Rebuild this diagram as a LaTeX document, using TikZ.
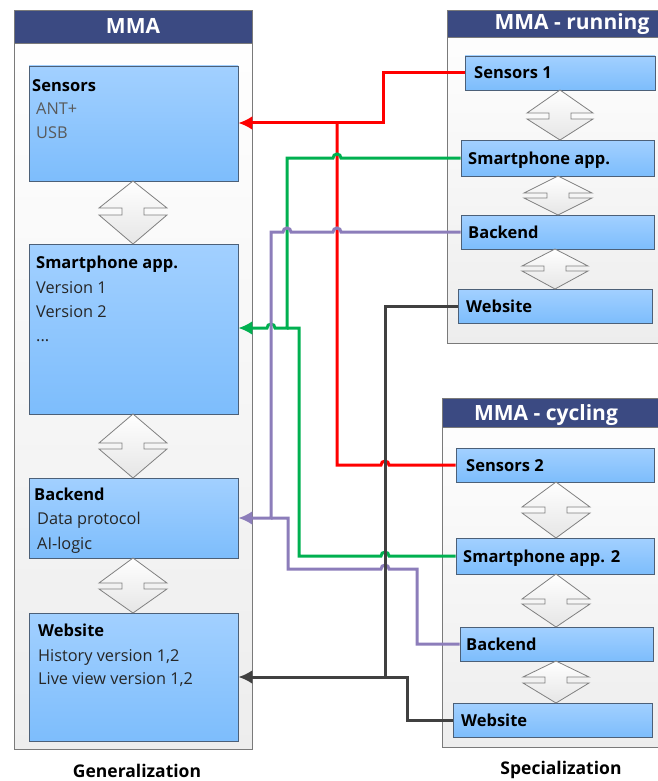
\documentclass[tikz,border=0pt]{standalone}
\usepackage{fontspec}
\setmainfont{Open Sans}
\usetikzlibrary{arrows.meta,shadows}

\definecolor{hdrblue}{HTML}{3B4A82}
\definecolor{boxtop}{HTML}{A2D0FF}
\definecolor{boxbot}{HTML}{7DBDFC}
\definecolor{boxedge}{HTML}{4C6078}
\definecolor{frameedge}{HTML}{7A7A7A}
\definecolor{lnred}{HTML}{FF0000}
\definecolor{lngreen}{HTML}{00B050}
\definecolor{lnpurple}{HTML}{8C7DBA}
\definecolor{lnblack}{HTML}{404040}
\definecolor{subtxt}{HTML}{262626}
\definecolor{graytxt}{HTML}{595959}

% box from (x1,y1) to (x2,y2), y measured downwards
\newcommand{\compbox}[5]{%
  \node[compbox, minimum width={#4pt-#2pt}, minimum height={#5pt-#3pt}]
    (#1) at ({(#2+#4)/2},{-(#3+#5)/2}) {};}
% vertical two-headed arrow: centre x, top, notch top, notch bottom, bottom, half width
\newcommand{\updown}[6]{%
  \draw[updown] (#1,-#2) -- ({#1+#6},-#3) -- ({#1+11},-#3) -- ({#1+11},-#4)
    -- ({#1+#6},-#4) -- (#1,-#5) -- ({#1-#6},-#4) -- ({#1-11},-#4)
    -- ({#1-11},-#3) -- ({#1-#6},-#3) -- cycle;}

\begin{document}
\begin{tikzpicture}[x=1pt,y=1pt,
  frame/.style={draw=frameedge, line width=0.8pt, top color=white, bottom color=black!7},
  header/.style={fill=hdrblue, draw=frameedge, line width=0.8pt},
  hdrtxt/.style={font=\fontsize{21}{24}\selectfont\bfseries, text=white, inner sep=0pt, anchor=base},
  compbox/.style={draw=boxedge, line width=0.8pt, top color=boxtop, bottom color=boxbot,
    inner sep=0pt, drop shadow={shadow xshift=1.2pt, shadow yshift=-1.2pt, opacity=0.25, fill=black}},
  updown/.style={draw=black!50, line width=0.8pt, top color=white, bottom color=black!10},
  ttl/.style={font=\fontsize{16.5}{19}\selectfont\bfseries, text=black, inner sep=0pt, anchor=base west},
  sub/.style={font=\fontsize{16.3}{19}\selectfont, text=subtxt, inner sep=0pt, anchor=base west},
  caption/.style={font=\fontsize{17.5}{20}\selectfont\bfseries, text=black, inner sep=0pt, anchor=base},
  conn/.style={line width=3pt},
  tip/.style={-{Latex[length=14pt,width=14pt]}},
]
\useasboundingbox (0,0) rectangle (657,-781);

% ---------- containers ----------
\path[frame] (14,-10) rectangle (252,-749);
\path[header] (14,-10) rectangle (252,-43);
\node[hdrtxt] (hgen) at (133,-34) {MMA};

\path[frame] (447,-10) rectangle (700,-343);
\path[header] (447,-10) rectangle (700,-37);
\node[hdrtxt] (hrun) at (572,-30) {MMA - running};

\path[frame] (442,-398) rectangle (700,-747);
\path[header] (442,-398) rectangle (700,-427);
\node[hdrtxt] (hcyc) at (546,-420) {MMA - cycling};

% ---------- general components ----------
\compbox{lsens}{29}{66}{238}{181}
\compbox{lapp}{29}{244}{238}{414}
\compbox{lback}{29}{478}{238}{558}
\compbox{lweb}{29}{613}{238}{741}

\node[ttl] (lsens-t) at (32,-92) {Sensors};
\node[sub, text=graytxt] (lsens-a) at (36,-115) {ANT+};
\node[sub, text=graytxt] (lsens-b) at (36,-139) {USB};

\node[ttl] (lapp-t) at (36,-268) {Smartphone app.};
\node[sub] (lapp-a) at (36,-293) {Version 1};
\node[sub] (lapp-b) at (36,-317) {Version 2};
\node[sub] (lapp-c) at (36,-341) {...};

\node[ttl] (lback-t) at (34,-500) {Backend};
\node[sub] (lback-a) at (37,-524) {Data protocol};
\node[sub] (lback-b) at (37,-549) {AI-logic};

\node[ttl] (lweb-t) at (38,-636) {Website};
\node[sub] (lweb-a) at (38,-661) {History version 1,2};
\node[sub] (lweb-b) at (38,-684) {Live view version 1,2};

\updown{133}{181}{208}{215}{244}{34}
\updown{133}{414}{443}{449}{478}{34}
\updown{133}{558}{583}{589}{613}{34}

% ---------- running components ----------
\compbox{s1}{465}{56}{655}{90}
\compbox{sa}{461}{140}{654}{176}
\compbox{be}{461}{215}{654}{249}
\compbox{ws}{458}{289}{652}{323}

\node[ttl] (s1-t) at (474,-79) {Sensors 1};
\node[ttl] (sa-t) at (468,-164) {Smartphone app.};
\node[ttl] (be-t) at (468,-238) {Backend};
\node[ttl] (ws-t) at (466,-312) {Website};

\updown{560}{90}{113}{119}{140}{33}
\updown{558}{176}{193}{198}{215}{34}
\updown{555}{249}{266}{271}{289}{33}

% ---------- cycling components ----------
\compbox{s2}{456}{448}{654}{482}
\compbox{sa2}{456}{538}{654}{574}
\compbox{be2}{460}{627}{653}{661}
\compbox{ws2}{453}{703}{652}{737}

\node[ttl] (s2-t) at (466,-471) {Sensors 2};
\node[ttl] (sa2-t) at (463,-562) {Smartphone app. 2};
\node[ttl] (be2-t) at (466,-650) {Backend};
\node[ttl] (ws2-t) at (461,-726) {Website};

\updown{556}{482}{507}{513}{538}{34}
\updown{556}{574}{599}{604}{627}{34}
\updown{556}{661}{677}{683}{703}{33}

% ---------- captions ----------
\node[caption] (cgen) at (137,-777) {Generalization};
\node[caption] (cspec) at (561,-774) {Specialization};

% ---------- connectors ----------
\coordinate (rj) at (337,-123);
\coordinate (gj) at (287,-328);
\coordinate (pj) at (271,-518);
\coordinate (kj) at (385,-677);

% sensors
\draw[conn, lnred, tip] (s1.west) -- (383,-73) -- (383,-123) -- (lsens.east |- 0,-123);
\draw[conn, lnred] (s2.west) -- (389,-465) arc[start angle=0, end angle=180, radius=4]
  -- (337,-465) -- (rj);

% smartphone apps
\draw[conn, lngreen, tip] (sa.west) -- (341,-158) arc[start angle=0, end angle=180, radius=4]
  -- (287,-158) -- (gj) -- (275,-328) arc[start angle=0, end angle=180, radius=4]
  -- (lapp.east |- 0,-328);
\draw[conn, lngreen] (sa2.west) -- (389,-556) arc[start angle=0, end angle=180, radius=4]
  -- (299,-556) -- (299,-328) -- (gj);

% backends
\draw[conn, lnpurple, tip] (be.west) -- (341,-232) arc[start angle=0, end angle=180, radius=4]
  -- (291,-232) arc[start angle=0, end angle=180, radius=4]
  -- (271,-232) -- (pj) -- (lback.east |- 0,-518);
\draw[conn, lnpurple] (be2.west) -- (417,-644) -- (417,-569)
  -- (389,-569) arc[start angle=0, end angle=180, radius=4]
  -- (288,-569) -- (288,-518) -- (pj);

% websites
\draw[conn, lnblack, tip] (ws.west) -- (385,-306) -- (kj) -- (lweb.east |- 0,-677);
\draw[conn, lnblack] (ws2.west) -- (407,-720) -- (407,-677) -- (kj);
\end{tikzpicture}
\end{document}
